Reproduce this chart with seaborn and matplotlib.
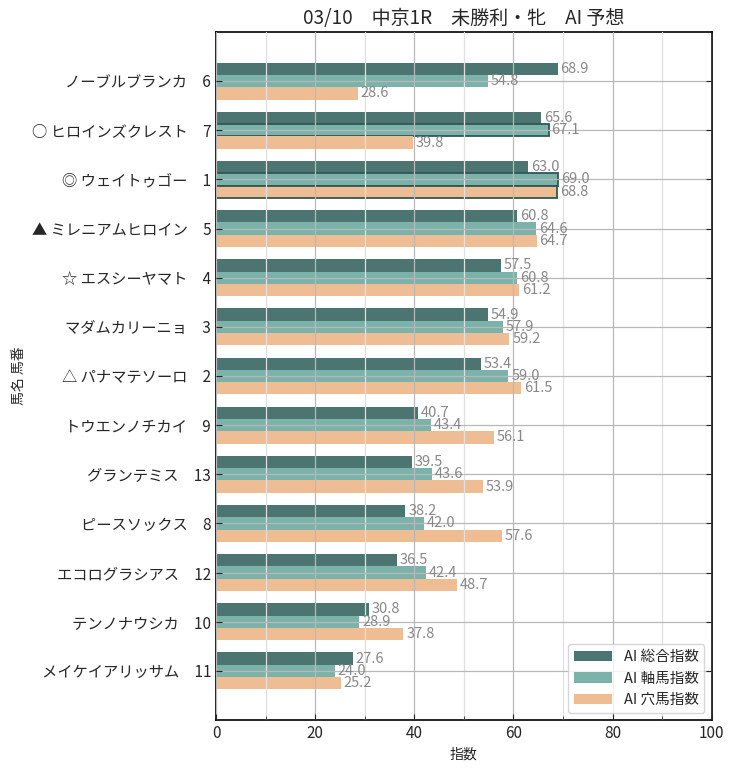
# AI予想 指数の横棒グラフ
import pandas as pd
import seaborn as sns
import matplotlib.pyplot as plt
from matplotlib.ticker import MultipleLocator

names = ['ノーブルブランカ', '○ ヒロインズクレスト', '◎ ウェイトゥゴー', '▲ ミレニアムヒロイン',
         '☆ エスシーヤマト', 'マダムカリーニョ', '△ パナマテソーロ', 'トウエンノチカイ',
         'グランテミス', 'ピースソックス', 'エコログラシアス', 'テンノナウシカ', 'メイケイアリッサム']
numbers = [6, 7, 1, 5, 4, 3, 2, 9, 13, 8, 12, 10, 11]
sogo = [68.9, 65.6, 63.0, 60.8, 57.5, 54.9, 53.4, 40.7, 39.5, 38.2, 36.5, 30.8, 27.6]
jiku = [54.8, 67.1, 69.0, 64.6, 60.8, 57.9, 59.0, 43.4, 43.6, 42.0, 42.4, 28.9, 24.0]
ana = [28.6, 39.8, 68.8, 64.7, 61.2, 59.2, 61.5, 56.1, 53.9, 57.6, 48.7, 37.8, 25.2]
series = ['AI 総合指数', 'AI 軸馬指数', 'AI 穴馬指数']
colors = ['#4c7571', '#7bb3ab', '#efbd93']

labels = [f'{n}　{k}' for n, k in zip(names, numbers)]
df = pd.DataFrame({'label': labels * 3,
                   'value': sogo + jiku + ana,
                   'kind': [s for s in series for _ in labels]})

sns.set_style('white')
plt.rcParams['font.family'] = ['Noto Sans CJK JP', 'DejaVu Sans']

fig = plt.figure(figsize=(7.36, 7.7), dpi=100)
ax = fig.add_axes([0.2935, 0.065, 0.6735, 0.8935])

sns.barplot(data=df, x='value', y='label', hue='kind', hue_order=series,
            palette=colors, saturation=1, width=0.75, orient='h',
            edgecolor='none', linewidth=0, ax=ax)

# 軸馬・穴馬で65以上の棒は枠線で強調
for i, cont in enumerate(ax.containers):
    for bar in cont:
        bar.set_antialiased(False)
        if i > 0 and bar.get_width() >= 65:
            bar.set_edgecolor('#2f5752')
            bar.set_linewidth(1.3)
            bar.set_antialiased(True)
    ax.bar_label(cont, fmt='%.1f', padding=2, color='#888888', fontsize=10.5)

ax.set_xlim(0, 100)
ax.set_ylim(13, -1)
ax.xaxis.set_major_locator(MultipleLocator(20))
ax.xaxis.set_minor_locator(MultipleLocator(10))
ax.grid(True, which='major', color='#b8b8b8', linewidth=0.9)
ax.grid(True, which='minor', axis='x', color='#e0e0e0', linewidth=0.9)
ax.set_axisbelow(False)

ax.tick_params(axis='both', which='both', direction='in', right=True, left=True, bottom=True)
ax.tick_params(axis='both', which='major', labelsize=11, length=4)
ax.tick_params(axis='x', which='minor', length=3)
for s in ax.spines.values():
    s.set_color('black')
    s.set_linewidth(1.2)

ax.set_xlabel('指数', fontsize=10)
ax.set_ylabel('馬名 馬番', fontsize=10)
ax.set_title('03/10　中京1R　未勝利・牝　AI 予想', fontsize=13.7, pad=6)
ax.legend(loc='lower right', fontsize=10.5, frameon=True, handlelength=2.6)

fig.savefig('out.png', dpi=100)
